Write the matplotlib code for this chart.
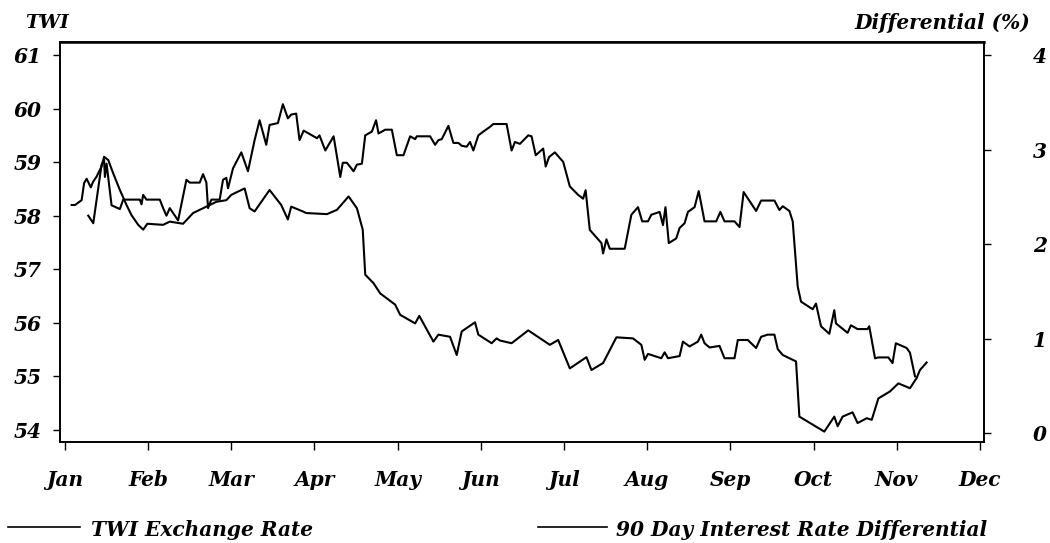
import matplotlib
matplotlib.use("Agg")
import matplotlib.pyplot as plt

months = ["Jan", "Feb", "Mar", "Apr", "May", "Jun", "Jul", "Aug", "Sep", "Oct", "Nov", "Dec"]
left_ticks = [54, 55, 56, 57, 58, 59, 60, 61]
right_ticks = [0, 1, 2, 3, 4]

# TWI exchange rate (left axis); x = position in months (0 = Jan)
twi_month = [0.08, 0.12, 0.20, 0.23, 0.26, 0.31, 0.34, 0.38, 0.44, 0.47, 0.52, 0.58, 0.66, 0.74,
             0.80, 0.88, 0.94, 0.99, 1.18, 1.26, 1.42, 1.54, 1.70, 1.82, 1.94, 2.00, 2.16, 2.22,
             2.28, 2.46, 2.60, 2.68, 2.72, 2.86, 2.90, 3.15, 3.27, 3.41, 3.51, 3.58, 3.61, 3.71,
             3.79, 3.97, 4.03, 4.21, 4.26, 4.43, 4.49, 4.63, 4.71, 4.77, 4.93, 4.97, 5.13, 5.19,
             5.23, 5.37, 5.47, 5.57, 5.83, 5.93, 6.07, 6.27, 6.33, 6.47, 6.63, 6.83, 6.93, 6.97,
             7.01, 7.17, 7.21, 7.25, 7.39, 7.43, 7.51, 7.61, 7.65, 7.69, 7.75, 7.87, 7.93, 8.05,
             8.09, 8.21, 8.31, 8.37, 8.45, 8.53, 8.57, 8.63, 8.79, 8.83, 9.13, 9.25, 9.29, 9.35,
             9.47, 9.53, 9.64, 9.70, 9.78, 9.92, 10.02, 10.16, 10.24, 10.28, 10.36]
twi_value = [58.20, 58.20, 58.29, 58.61, 58.69, 58.53, 58.64, 58.73, 58.92, 59.10, 59.04, 58.79,
             58.48, 58.20, 58.01, 57.83, 57.74, 57.85, 57.83, 57.89, 57.85, 58.05, 58.17, 58.26,
             58.29, 58.39, 58.51, 58.14, 58.08, 58.48, 58.20, 57.93, 58.17, 58.08, 58.05, 58.03,
             58.11, 58.36, 58.14, 57.74, 56.90, 56.74, 56.55, 56.34, 56.15, 55.99, 56.13, 55.65,
             55.78, 55.74, 55.40, 55.84, 56.01, 55.78, 55.62, 55.71, 55.67, 55.62, 55.74, 55.86,
             55.59, 55.68, 55.15, 55.36, 55.12, 55.25, 55.73, 55.71, 55.59, 55.31, 55.42, 55.34,
             55.45, 55.34, 55.38, 55.65, 55.56, 55.65, 55.78, 55.62, 55.54, 55.57, 55.34, 55.34,
             55.68, 55.68, 55.53, 55.74, 55.78, 55.78, 55.51, 55.40, 55.28, 54.25, 53.97, 54.25,
             54.07, 54.25, 54.33, 54.13, 54.22, 54.19, 54.59, 54.72, 54.87, 54.78, 54.97, 55.12,
             55.26]

# 90 day interest rate differential (right axis, %)
diff_month = [0.28, 0.34, 0.44, 0.47, 0.48, 0.50, 0.56, 0.66, 0.70, 0.90, 0.92, 0.94, 0.98, 1.14,
              1.18, 1.22, 1.26, 1.36, 1.46, 1.50, 1.62, 1.66, 1.70, 1.72, 1.76, 1.86, 1.90, 1.94,
              1.96, 2.00, 2.02, 2.12, 2.20, 2.28, 2.34, 2.42, 2.46, 2.56, 2.62, 2.68, 2.72, 2.78,
              2.82, 2.87, 3.03, 3.06, 3.13, 3.23, 3.31, 3.34, 3.39, 3.47, 3.51, 3.57, 3.61, 3.69,
              3.74, 3.77, 3.85, 3.93, 3.99, 4.07, 4.15, 4.21, 4.23, 4.39, 4.45, 4.49, 4.53, 4.61,
              4.67, 4.73, 4.77, 4.83, 4.87, 4.91, 4.97, 5.03, 5.11, 5.15, 5.31, 5.37, 5.41, 5.47,
              5.57, 5.61, 5.66, 5.75, 5.78, 5.82, 5.89, 5.99, 6.07, 6.17, 6.23, 6.26, 6.31, 6.45,
              6.47, 6.51, 6.55, 6.73, 6.81, 6.89, 6.94, 7.01, 7.05, 7.15, 7.19, 7.22, 7.26, 7.35,
              7.39, 7.45, 7.49, 7.57, 7.62, 7.69, 7.83, 7.88, 7.93, 8.05, 8.11, 8.16, 8.31, 8.37,
              8.53, 8.59, 8.63, 8.71, 8.75, 8.77, 8.81, 8.85, 8.99, 9.03, 9.09, 9.19, 9.25, 9.27,
              9.41, 9.45, 9.53, 9.65, 9.67, 9.74, 9.78, 9.90, 9.95, 9.99, 10.12, 10.16, 10.22]
diff_value = [2.30, 2.22, 2.84, 2.89, 2.71, 2.85, 2.41, 2.37, 2.47, 2.47, 2.42, 2.52, 2.47, 2.47,
              2.38, 2.30, 2.38, 2.25, 2.68, 2.65, 2.65, 2.74, 2.65, 2.38, 2.47, 2.47, 2.68, 2.70,
              2.59, 2.73, 2.80, 2.97, 2.77, 3.10, 3.31, 3.05, 3.26, 3.28, 3.48, 3.33, 3.37, 3.38,
              3.10, 3.20, 3.12, 3.15, 2.99, 3.14, 2.71, 2.86, 2.86, 2.77, 2.84, 2.85, 3.15, 3.19,
              3.31, 3.17, 3.21, 3.21, 2.94, 2.94, 3.14, 3.11, 3.14, 3.14, 3.05, 3.10, 3.11, 3.25,
              3.07, 3.07, 3.04, 3.03, 3.08, 2.99, 3.15, 3.19, 3.24, 3.27, 3.27, 2.99, 3.08, 3.06,
              3.15, 3.14, 2.94, 3.01, 2.82, 2.92, 2.97, 2.87, 2.61, 2.52, 2.48, 2.57, 2.15, 2.01,
              1.90, 2.05, 1.95, 1.95, 2.31, 2.39, 2.24, 2.24, 2.31, 2.34, 2.20, 2.39, 2.01, 2.06,
              2.17, 2.22, 2.34, 2.39, 2.56, 2.24, 2.24, 2.34, 2.24, 2.24, 2.18, 2.55, 2.35, 2.46,
              2.46, 2.36, 2.40, 2.35, 2.24, 2.01, 1.55, 1.39, 1.31, 1.37, 1.13, 1.05, 1.30, 1.16,
              1.06, 1.14, 1.10, 1.10, 1.13, 0.79, 0.80, 0.80, 0.74, 0.95, 0.90, 0.85, 0.60]

W, H = 1050, 543
fig = plt.figure(figsize=(W / 100, H / 100), dpi=100)
ax = fig.add_axes([60 / W, 1 - 442 / H, (984 - 60) / W, (442 - 42) / H])
ax2 = ax.twinx()

fnt = dict(family="DejaVu Serif", weight="bold", style="italic")
fs = 14.5

ax.plot(twi_month, twi_value, color="black", lw=1.5)
ax2.plot(diff_month, diff_value, color="black", lw=1.5)

ax.set_xlim(-0.06, 11.05)
ax.set_ylim(53.776, 61.243)
ax2.set_ylim(-0.095, 4.138)

ax.set_xticks(range(12))
ax.set_xticklabels(months, fontsize=fs, **fnt)
ax.set_yticks(left_ticks)
ax.set_yticklabels([str(t) for t in left_ticks], fontsize=fs, **fnt)
ax2.set_yticks(right_ticks)
ax2.set_yticklabels([str(t) for t in right_ticks], fontsize=fs, **fnt)

ax.tick_params(axis="x", direction="out", length=6, width=1, pad=14, top=False)
ax.tick_params(axis="y", direction="out", length=5, width=1, pad=8, right=False)
ax2.tick_params(axis="y", direction="out", length=5, width=1, pad=30, left=False)

for a in (ax, ax2):
    for s in a.spines.values():
        s.set_linewidth(1.2)
        s.set_color("black")
ax.spines["top"].set_linewidth(1.8)

fig.text(25 / W, 1 - 23 / H, "TWI", ha="left", va="center", fontsize=fs - 1, **fnt)
fig.text(1030 / W, 1 - 23 / H, "Differential (%)", ha="right", va="center", fontsize=fs, **fnt)

# legend entries
fig.add_artist(plt.Line2D([8 / W, 80 / W], [1 - 527 / H, 1 - 527 / H], color="black", lw=1.2))
fig.text(91 / W, 1 - 530 / H, "TWI Exchange Rate", ha="left", va="center", fontsize=fs, **fnt)
fig.add_artist(plt.Line2D([538 / W, 607 / W], [1 - 527 / H, 1 - 527 / H], color="black", lw=1.2))
fig.text(616 / W, 1 - 530 / H, "90 Day Interest Rate Differential", ha="left", va="center",
         fontsize=fs, **fnt)

fig.savefig("out.png", dpi=100)
